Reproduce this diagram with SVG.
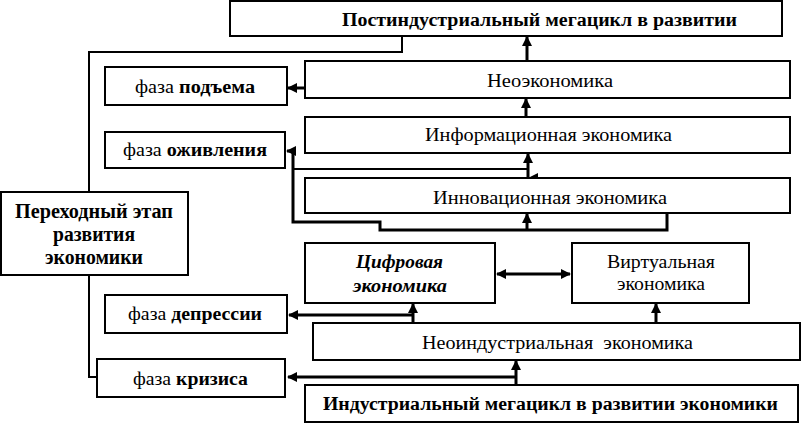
<svg xmlns="http://www.w3.org/2000/svg" width="801" height="423" viewBox="0 0 801 423">
<style>
.box{fill:#fff;stroke:#000;stroke-width:2}
text{font-family:'Liberation Serif','DejaVu Serif',serif;font-size:18px;fill:#000}
.b{font-weight:bold}
.bi{font-weight:bold;font-style:italic}
.c{fill:none;stroke:#000;stroke-width:3}
.c2{fill:none;stroke:#000;stroke-width:2}
</style>
<defs>
<marker id="ah" markerUnits="userSpaceOnUse" markerWidth="10" markerHeight="10" refX="9" refY="5" orient="auto">
<path d="M0,0 L10,5 L0,10 Z" fill="#000"/>
</marker>
<marker id="ahs" markerUnits="userSpaceOnUse" markerWidth="10" markerHeight="10" refX="9" refY="5" orient="auto-start-reverse">
<path d="M0,0 L10,5 L0,10 Z" fill="#000"/>
</marker>
</defs>
<rect width="801" height="423" fill="#fff"/>
<g id="connectors">
<path class="c2" d="M97,377 H89 V52 H402 V37"/>
<path class="c" d="M527,60 V37" marker-end="url(#ah)"/>
<path class="c" d="M526,117 V99" marker-end="url(#ah)"/>
<path class="c" d="M305,88 H288" marker-end="url(#ah)"/>
<path class="c2" d="M293,169 H528 V178"/>
<path class="c" d="M528,178 V154" marker-end="url(#ah)"/>
<path d="M528,178 L538,173 L538,183 Z" fill="#000"/>
<path class="c" d="M667,214 V230 H380 V222 H293 V151 H287" marker-end="url(#ah)"/>
<path class="c" d="M527,230 V214" marker-end="url(#ah)"/>
<path class="c" d="M497,274 H570" marker-start="url(#ahs)" marker-end="url(#ahs)"/>
<path class="c" d="M656,323 V304" marker-end="url(#ah)"/>
<path class="c" d="M413,323 V304" marker-end="url(#ah)"/>
<path class="c" d="M413,315 H289" marker-end="url(#ah)"/>
<path class="c" d="M516,385 V361" marker-end="url(#ah)"/>
<path class="c" d="M516,377 H288" marker-end="url(#ah)"/>
</g>
<g id="post">
<rect class="box" x="230" y="1" width="552" height="35"/>
<text class="b" x="342" y="26" textLength="395" lengthAdjust="spacingAndGlyphs">Постиндустриальный мегацикл в развитии</text>
</g>
<g id="neo">
<rect class="box" x="305" y="61" width="485" height="37"/>
<text x="487" y="87" textLength="126" lengthAdjust="spacingAndGlyphs">Неоэкономика</text>
</g>
<g id="info">
<rect class="box" x="305" y="117" width="485" height="36"/>
<text x="425" y="141" textLength="247" lengthAdjust="spacingAndGlyphs">Информационная экономика</text>
</g>
<g id="innov">
<rect class="box" x="305" y="178" width="485" height="35"/>
<text x="433" y="204" textLength="234" lengthAdjust="spacingAndGlyphs">Инновационная экономика</text>
</g>
<g id="podem">
<rect class="box" x="105" y="67" width="182" height="38"/>
<text x="135" y="93" textLength="120" lengthAdjust="spacingAndGlyphs">фаза <tspan class="b">подъема</tspan></text>
</g>
<g id="ozhiv">
<rect class="box" x="105" y="132" width="180" height="36"/>
<text x="123" y="156" textLength="144" lengthAdjust="spacingAndGlyphs">фаза <tspan class="b">оживления</tspan></text>
</g>
<g id="perehod">
<rect class="box" x="1" y="192" width="187" height="83"/>
<text class="b" style="font-size:20px" x="15" y="218" textLength="158" lengthAdjust="spacingAndGlyphs">Переходный этап</text>
<text class="b" style="font-size:20px" x="53" y="241" textLength="82" lengthAdjust="spacingAndGlyphs">развития</text>
<text class="b" style="font-size:20px" x="45" y="264" textLength="98" lengthAdjust="spacingAndGlyphs">экономики</text>
</g>
<g id="cifr">
<rect class="box" x="305" y="243" width="190" height="60"/>
<text class="bi" x="356" y="268" textLength="87" lengthAdjust="spacingAndGlyphs">Цифровая</text>
<text class="bi" x="353" y="292" textLength="94" lengthAdjust="spacingAndGlyphs">экономика</text>
</g>
<g id="virt">
<rect class="box" x="572" y="243" width="177" height="60"/>
<text x="607" y="268" textLength="108" lengthAdjust="spacingAndGlyphs">Виртуальная</text>
<text x="617" y="290" textLength="88" lengthAdjust="spacingAndGlyphs">экономика</text>
</g>
<g id="depr">
<rect class="box" x="105" y="295" width="182" height="38"/>
<text x="128" y="320" textLength="134" lengthAdjust="spacingAndGlyphs">фаза <tspan class="b">депрессии</tspan></text>
</g>
<g id="neoind">
<rect class="box" x="313" y="323" width="487" height="37"/>
<text xml:space="preserve" x="422" y="349" textLength="271" lengthAdjust="spacingAndGlyphs">Неоиндустриальная  экономика</text>
</g>
<g id="kriz">
<rect class="box" x="97" y="359" width="188" height="38"/>
<text x="133" y="385" textLength="115" lengthAdjust="spacingAndGlyphs">фаза <tspan class="b">кризиса</tspan></text>
</g>
<g id="ind">
<rect class="box" x="305" y="385" width="493" height="37"/>
<text class="b" x="323" y="410" textLength="455" lengthAdjust="spacingAndGlyphs">Индустриальный мегацикл в развитии экономики</text>
</g>
</svg>
